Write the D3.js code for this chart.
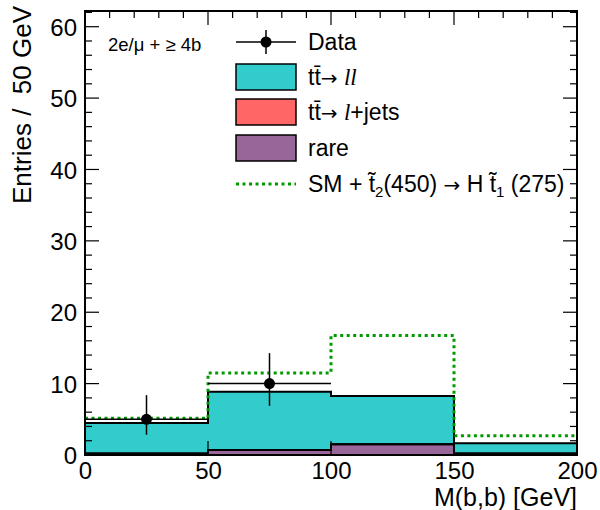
<!DOCTYPE html>
<head>
<meta charset="utf-8">
<title>M(b,b)</title>
<script src="https://cdn.jsdelivr.net/npm/d3@7"></script>
<style type="text/css">
body { margin: 0; background: #fff; }
text { font-family: "Liberation Sans", Arial, Helvetica, sans-serif; fill: #000; white-space: pre; }
</style>
</head>

<body>
<script type="text/javascript">

// data
const binEdges = [0, 50, 100, 150, 200];
const rare     = [0.2, 0.7, 1.5, 0.2];
const ttLjets  = [0, 0, 0, 0];
const ttLL     = [4.3, 8.17, 6.76, 1.44];
const smSignal = [5.15, 11.5, 16.75, 2.7];
const dataVal  = [5, 10, 0, 0];
const dataLo   = [2.84, 6.89, 0, 0];
const dataHi   = [8.38, 14.27, 0, 0];
const yTicks = [0, 10, 20, 30, 40, 50, 60];
const xTicks = [0, 50, 100, 150, 200];

const W = 600, H = 510;
const x = d3.scaleLinear().domain([0, 200]).range([85, 577]);
const y = d3.scaleLinear().domain([0, 62.2]).range([455, 11]);

const svg = d3.select("body").append("svg")
    .attr("width", W).attr("height", H);

// minor x ticks at the bottom sit under the fills
const xMinor = d3.range(0, 201, 10).filter(v => v % 50 != 0);
svg.append("g").selectAll("line").data(xMinor).enter().append("line")
    .attr("x1", d => x(d)).attr("x2", d => x(d))
    .attr("y1", y(0)).attr("y2", y(0) - 7)
    .attr("stroke", "#000").attr("stroke-width", 1);

// stack: rare, tt->l+jets, tt->ll
const layers = [
    {vals: rare,    color: "#996699"},
    {vals: ttLjets, color: "#ff6666"},
    {vals: ttLL,    color: "#33cccc"}
];
let base = [0, 0, 0, 0];
layers.forEach(l => {
    l.hi = base.map((b, i) => b + l.vals[i]);
    base = l.hi;
});

// points at bin edges, last value repeated so step-after closes the bin
function pts(hi) {
    return binEdges.map((e, i) => ({e: e, hi: hi[Math.min(i, hi.length - 1)]}));
}
const area = d3.area().curve(d3.curveStepAfter)
    .x(d => x(d.e)).y0(y(0)).y1(d => y(d.hi));
const line = d3.line().curve(d3.curveStepAfter)
    .x(d => x(d.e)).y(d => y(d.hi));

// cumulative histos, biggest first
[...layers].reverse().forEach(l => {
    svg.append("path").datum(pts(l.hi))
        .attr("d", area).attr("fill", l.color);
});
[...layers].reverse().forEach(l => {
    svg.append("path").datum(pts(l.hi))
        .attr("d", line).attr("fill", "none")
        .attr("stroke", "#000").attr("stroke-width", 2);
});

// SM + signal, dotted green
svg.append("path").datum(pts(smSignal))
    .attr("d", line).attr("fill", "none")
    .attr("stroke", "#009a00").attr("stroke-width", 3)
    .attr("stroke-dasharray", "3,3.5");

// data points
const dp = dataVal.map((v, i) => ({v: v, lo: dataLo[i], hi: dataHi[i], a: binEdges[i], b: binEdges[i+1]}))
    .filter(d => d.v > 0);
const gd = svg.append("g");
gd.selectAll(".eh").data(dp).enter().append("line")
    .attr("x1", d => x(d.a)).attr("x2", d => x(d.b))
    .attr("y1", d => y(d.v)).attr("y2", d => y(d.v))
    .attr("stroke", "#000").attr("stroke-width", 1.5);
gd.selectAll(".ev").data(dp).enter().append("line")
    .attr("x1", d => x((d.a + d.b) / 2)).attr("x2", d => x((d.a + d.b) / 2))
    .attr("y1", d => y(d.lo)).attr("y2", d => y(d.hi))
    .attr("stroke", "#000").attr("stroke-width", 1.5);
gd.selectAll("circle").data(dp).enter().append("circle")
    .attr("cx", d => x((d.a + d.b) / 2)).attr("cy", d => y(d.v))
    .attr("r", 5.5).attr("fill", "#000");

// frame
svg.append("rect")
    .attr("x", x(0)).attr("y", y(62.2))
    .attr("width", x(200) - x(0)).attr("height", y(0) - y(62.2))
    .attr("fill", "none").attr("stroke", "#000").attr("stroke-width", 2);

// y ticks both sides
const yMinor = d3.range(0, 63, 2);
const gt = svg.append("g").attr("stroke", "#000").attr("stroke-width", 1.2);
yMinor.forEach(v => {
    const len = v % 10 == 0 ? 14 : 7;
    gt.append("line").attr("x1", x(0)).attr("x2", x(0) + len).attr("y1", y(v)).attr("y2", y(v));
    gt.append("line").attr("x1", x(200)).attr("x2", x(200) - len).attr("y1", y(v)).attr("y2", y(v));
});
// x ticks: top all, bottom majors
d3.range(0, 201, 10).forEach(v => {
    const len = v % 50 == 0 ? 14 : 7;
    gt.append("line").attr("x1", x(v)).attr("x2", x(v)).attr("y1", y(62.2)).attr("y2", y(62.2) + len);
    if (v % 50 == 0)
        gt.append("line").attr("x1", x(v)).attr("x2", x(v)).attr("y1", y(0)).attr("y2", y(0) - 14);
});

// tick labels via axes (lines hidden)
const yAxis = svg.append("g").attr("transform", "translate(" + (x(0) - 5) + ",0)")
    .call(d3.axisLeft(y).tickValues(yTicks).tickSize(0).tickFormat(d3.format("d")));
const xAxis = svg.append("g").attr("transform", "translate(0," + (y(0) + 2) + ")")
    .call(d3.axisBottom(x).tickValues(xTicks).tickSize(0).tickFormat(d3.format("d")));
[yAxis, xAxis].forEach(a => {
    a.select(".domain").remove();
    a.selectAll("text").style("font-size", "24px")
        .style("font-family", "Liberation Sans, Arial, sans-serif");
});
yAxis.selectAll("text").attr("dy", "0.36em");
xAxis.selectAll("text").attr("dy", "0.78em");

// axis titles
svg.append("text")
    .attr("transform", "translate(31,6) rotate(-90)")
    .attr("text-anchor", "end").style("font-size", "26px")
    .text("Entries /  50 GeV");
svg.append("text")
    .attr("x", 577).attr("y", 506).attr("text-anchor", "end")
    .style("font-size", "25px").text("M(b,b) [GeV]");

// channel label
svg.append("text").attr("x", 108).attr("y", 51)
    .style("font-size", "18.5px").text("2e/\u03bc + \u2265 4b");

// legend
const lx = 236, lw = 60, tx = 308;
const rows = [42, 77, 112, 148, 184];
const lg = svg.append("g");
lg.append("line").attr("x1", lx).attr("x2", lx + lw).attr("y1", rows[0]).attr("y2", rows[0])
    .attr("stroke", "#000").attr("stroke-width", 1.5);
lg.append("line").attr("x1", lx + lw / 2).attr("x2", lx + lw / 2).attr("y1", rows[0] - 12).attr("y2", rows[0] + 12)
    .attr("stroke", "#000").attr("stroke-width", 1.5);
lg.append("circle").attr("cx", lx + lw / 2).attr("cy", rows[0]).attr("r", 5.5).attr("fill", "#000");

const boxes = [layers[2], layers[1], layers[0]];
boxes.forEach((l, i) => {
    lg.append("rect").attr("x", lx).attr("y", rows[i + 1] - 13)
        .attr("width", lw).attr("height", 26)
        .attr("fill", l.color).attr("stroke", "#000").attr("stroke-width", 1.5);
});
lg.append("line").attr("x1", lx).attr("x2", lx + lw).attr("y1", rows[4]).attr("y2", rows[4])
    .attr("stroke", "#009a00").attr("stroke-width", 3).attr("stroke-dasharray", "3,3.5");

function ltext(row) {
    return lg.append("text").attr("x", tx).attr("y", rows[row] + 8).style("font-size", "23px");
}
function arrow(t) {
    t.append("tspan").style("font-family", "DejaVu Sans, sans-serif").style("font-size", "20px").text("\u2192");
}
ltext(0).text("Data");
let t1 = ltext(1);
t1.append("tspan").text("tt\u0304");
arrow(t1);
t1.append("tspan").text(" ");
t1.append("tspan").style("font-family", "Liberation Serif, serif").style("font-style", "italic").text("ll");
let t2 = ltext(2);
t2.append("tspan").text("tt\u0304");
arrow(t2);
t2.append("tspan").text(" ");
t2.append("tspan").style("font-family", "Liberation Serif, serif").style("font-style", "italic").text("l");
t2.append("tspan").text("+jets");
ltext(3).text("rare");
let t4 = ltext(4);
t4.append("tspan").text("SM + t\u0303");
t4.append("tspan").attr("dy", 5).style("font-size", "15px").text("2");
t4.append("tspan").attr("dy", -5).text("(450) ");
arrow(t4);
t4.append("tspan").text(" H t\u0303");
t4.append("tspan").attr("dy", 5).style("font-size", "15px").text("1");
t4.append("tspan").attr("dy", -5).text(" (275)");

</script>
</body>
